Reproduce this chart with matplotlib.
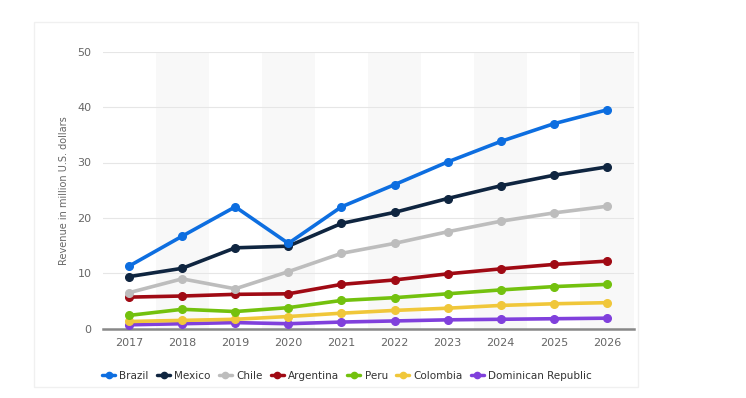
import matplotlib.pyplot as plt
from matplotlib.patches import Rectangle

# Revenue in million U.S. dollars
years = ['2017', '2018', '2019', '2020', '2021', '2022', '2023', '2024', '2025', '2026']
brazil = [11.3, 16.7, 22.0, 15.4, 22.0, 26.0, 30.1, 33.8, 37.0, 39.5]
mexico = [9.4, 10.9, 14.6, 14.9, 19.0, 21.0, 23.5, 25.8, 27.7, 29.2]
chile = [6.5, 9.0, 7.2, 10.3, 13.6, 15.4, 17.5, 19.4, 20.9, 22.1]
argentina = [5.7, 5.9, 6.2, 6.3, 8.0, 8.8, 9.9, 10.8, 11.6, 12.2]
peru = [2.4, 3.5, 3.1, 3.8, 5.1, 5.6, 6.3, 7.0, 7.6, 8.0]
colombia = [1.3, 1.5, 1.7, 2.2, 2.8, 3.3, 3.7, 4.2, 4.5, 4.7]
dominican = [0.7, 0.9, 1.1, 0.9, 1.2, 1.4, 1.6, 1.7, 1.8, 1.9]

series = [
    ('Brazil', brazil, '#0d6ee0'),
    ('Mexico', mexico, '#0f2540'),
    ('Chile', chile, '#bdbdbd'),
    ('Argentina', argentina, '#a00a14'),
    ('Peru', peru, '#73c10e'),
    ('Colombia', colombia, '#f0c73a'),
    ('Dominican Republic', dominican, '#8040dc'),
]

fig = plt.figure(figsize=(7.46, 3.98), dpi=100)

# faint card outline
card = Rectangle((34 / 746, 1 - 387 / 398), (638 - 34) / 746, (387 - 22) / 398,
                 transform=fig.transFigure, facecolor='none', edgecolor='#f0f0f0',
                 linewidth=1.0, zorder=0)
fig.patches.append(card)

ax = fig.add_axes([102.5 / 746, 1 - 328.7 / 398, 531 / 746, 277 / 398])
ax.set_facecolor('none')

x = list(range(len(years)))

# alternating column shading
for i in x:
    if i % 2 == 1:
        ax.axvspan(i - 0.5, i + 0.5, color='#f8f8f8', zorder=0, lw=0)

for name, vals, col in series[::-1]:
    ax.plot(x, vals, color=col, lw=2.6, marker='o', markersize=5.5,
            label=name, zorder=3, solid_capstyle='round')

ax.set_xlim(-0.5, len(years) - 0.5)
ax.set_ylim(0, 50)
ax.set_yticks([0, 10, 20, 30, 40, 50])
ax.set_xticks(x)
ax.set_xticklabels(years)
ax.grid(axis='y', color='#e6e6e6', lw=0.8, zorder=1)
ax.set_axisbelow(True)

for s in ['top', 'right', 'left']:
    ax.spines[s].set_visible(False)
ax.spines['bottom'].set_color('#888888')
ax.spines['bottom'].set_linewidth(1.8)
ax.spines['bottom'].set_zorder(2)

ax.tick_params(axis='both', length=0, labelsize=8, labelcolor='#666666')
ax.tick_params(axis='y', pad=8)
ax.tick_params(axis='x', pad=7)
ax.set_ylabel('Revenue in million U.S. dollars', fontsize=7, color='#666666', labelpad=6)

handles, labels = ax.get_legend_handles_labels()
leg = fig.legend(handles[::-1], labels[::-1], loc='center', ncol=7,
                 bbox_to_anchor=(347 / 746, 1 - 376 / 398), frameon=False,
                 fontsize=7.5, handlelength=1.25, handletextpad=0.4, columnspacing=0.8)
for t in leg.get_texts():
    t.set_color('#333333')
for h in leg.legend_handles:
    h.set_markersize(4.5)
    h.set_linewidth(2.5)

fig.savefig('out.png', dpi=100)
